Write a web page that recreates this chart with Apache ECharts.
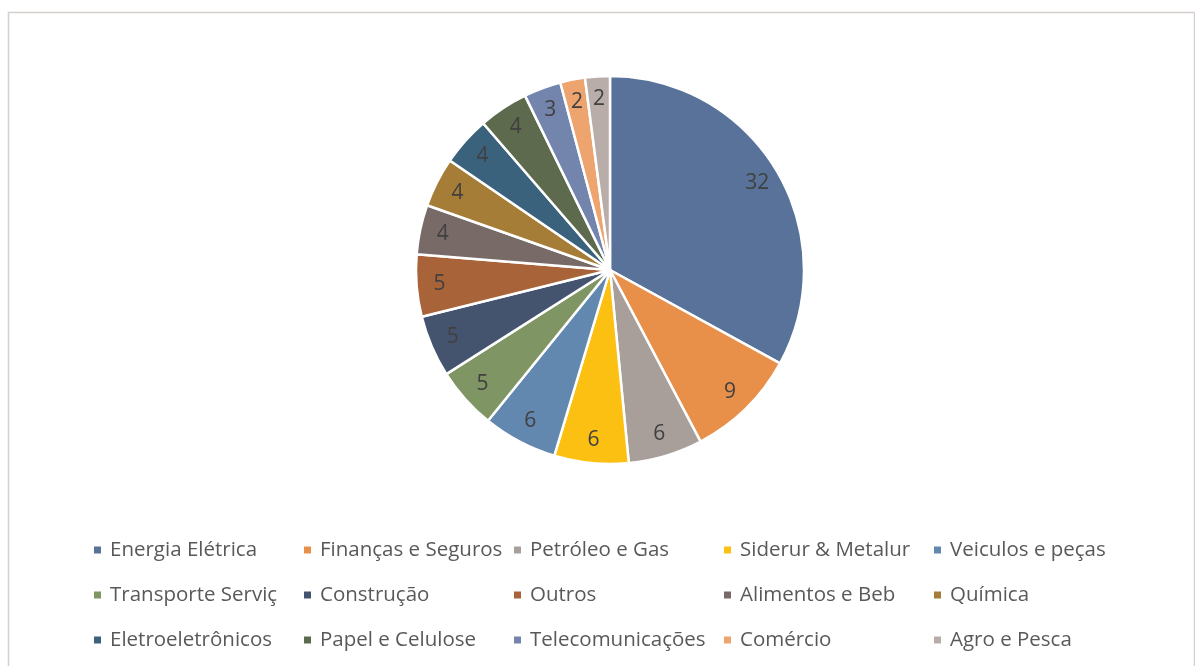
<!DOCTYPE html>
<html>
<head>
<meta charset="utf-8">
<script src="https://cdn.jsdelivr.net/npm/echarts@6/dist/echarts.min.js"></script>
<style>
  html, body { margin: 0; padding: 0; background: #fff; }
  #chart { width: 1195px; height: 666px; }
</style>
</head>
<body>
<div id="chart"></div>
<script>
var setores = ["Energia Elétrica", "Finanças e Seguros", "Petróleo e Gas", "Siderur & Metalur", "Veiculos e peças",
  "Transporte Serviç", "Construção", "Outros", "Alimentos e Beb", "Química",
  "Eletroeletrônicos", "Papel e Celulose", "Telecomunicações", "Comércio", "Agro e Pesca"];
var valores = [32, 9, 6, 6, 6, 5, 5, 5, 4, 4, 4, 4, 3, 2, 2];
var cores = ["#587299", "#E8904A", "#A89F9B", "#FCC013", "#6388B0",
  "#7F9563", "#44546F", "#A86339", "#786B67", "#A67D37",
  "#3A627D", "#5E6A4D", "#7385AD", "#EDA46E", "#B8ADA9"];

var dom = document.getElementById("chart");
var myChart = echarts.init(dom);

var dados = setores.map(function (nome, i) {
  return { name: nome, value: valores[i], itemStyle: { color: cores[i] } };
});

var option = {
  animation: false,
  graphic: [{
    type: 'rect',
    shape: { x: 8.5, y: 12.5, width: 1186, height: 700 },
    style: { fill: 'none', stroke: '#D6D0CC', lineWidth: 1.5 },
    silent: true
  }],
  legend: {
    left: 92,
    top: 530,
    width: 1060,
    padding: 0,
    itemGap: 5,
    itemWidth: 9,
    itemHeight: 9,
    icon: 'rect',
    data: setores,
    textStyle: {
      fontFamily: 'Open Sans',
      fontSize: 20.5,
      color: '#595959',
      width: 187,
      overflow: 'truncate',
      lineHeight: 40,
      padding: [0, 0, 0, 3]
    }
  },
  series: [{
    type: 'pie',
    center: [610, 270],
    radius: [0, 194],
    startAngle: 90,
    clockwise: true,
    itemStyle: { borderColor: '#fff', borderWidth: 2.5 },
    label: { show: false },
    labelLine: { show: false },
    emphasis: { disabled: true },
    data: dados
  }, {
    // camada transparente só para posicionar os rótulos
    type: 'pie',
    center: [610, 270],
    radius: [0, 336],
    startAngle: 90,
    clockwise: true,
    silent: true,
    itemStyle: { color: 'rgba(0,0,0,0)', borderWidth: 0 },
    label: {
      show: true,
      position: 'inside',
      formatter: '{c}',
      fontFamily: 'Open Sans',
      fontSize: 21,
      color: '#404040'
    },
    labelLine: { show: false },
    data: setores.map(function (nome, i) { return { name: nome, value: valores[i] }; })
  }]
};

myChart.setOption(option);
</script>
</body>
</html>
